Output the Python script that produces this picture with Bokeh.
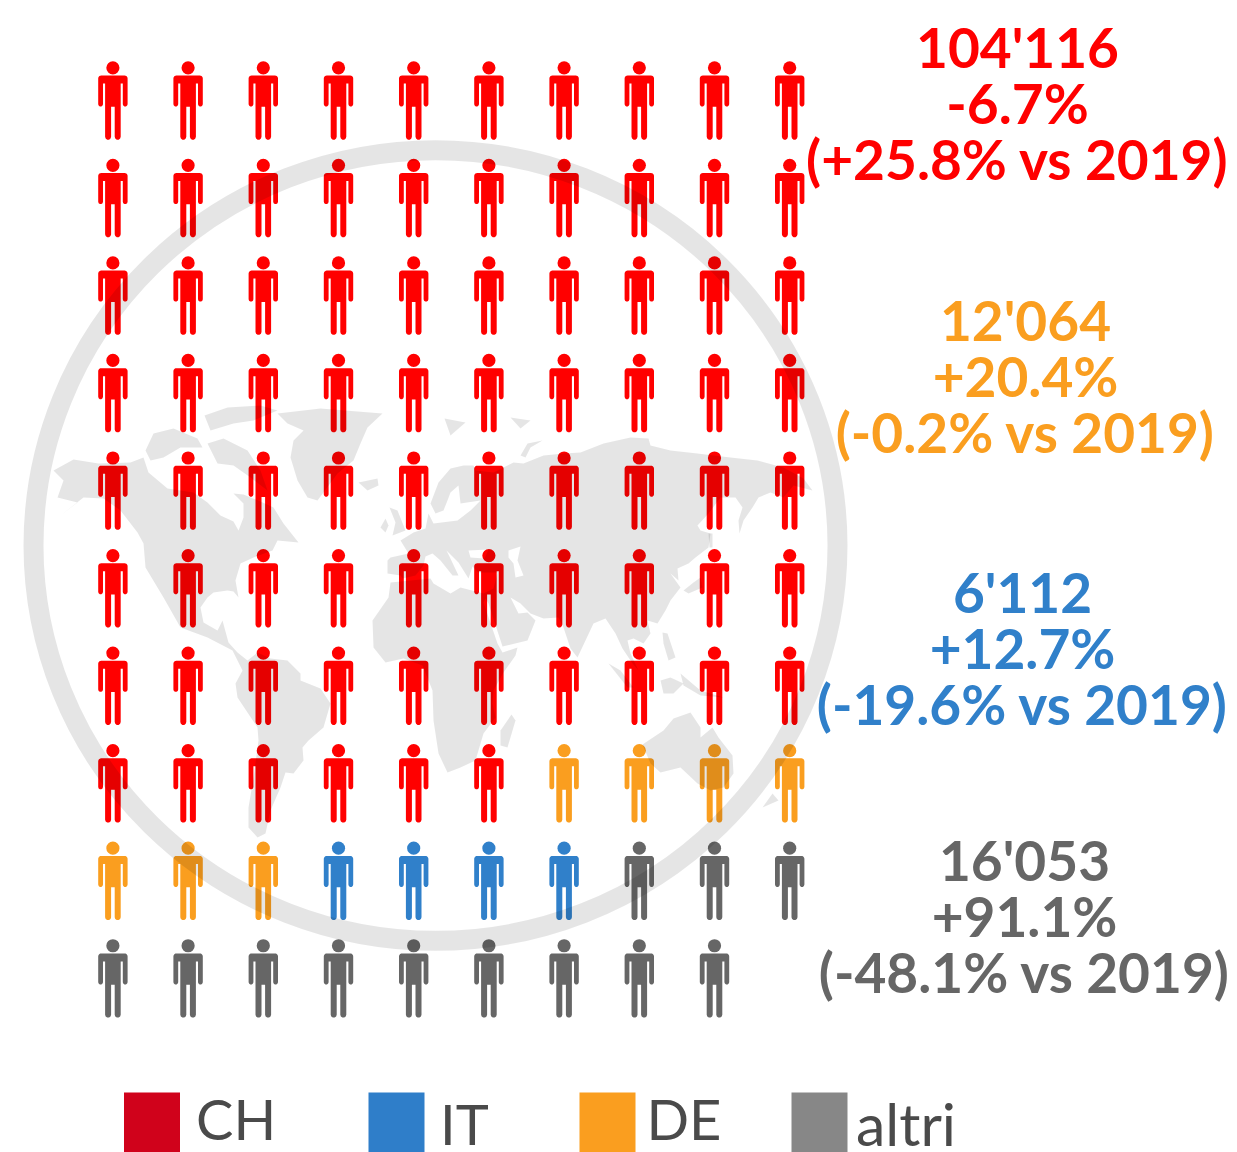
import numpy as np
from bokeh.plotting import figure
from bokeh.models import Range1d
from bokeh.core.properties import value
from bokeh.embed import file_html
from bokeh.resources import INLINE

# ---- data ----
categories = ["CH", "DE", "IT", "altri"]
icon_counts = [76, 7, 4, 12]
icon_colors = ["#FF0000", "#FA9E1F", "#3080CA", "#666666"]
per_row = 10

labels_ch = ["104'116", "-6.7%", "(+25.8% vs 2019)"]
labels_de = ["12'064", "+20.4%", "(-0.2% vs 2019)"]
labels_it = ["6'112", "+12.7%", "(-19.6% vs 2019)"]
labels_al = ["16'053", "+91.1%", "(-48.1% vs 2019)"]

legend_labels = ["CH", "IT", "DE", "altri"]
legend_colors = ["#D0021B", "#2F7EC9", "#FA9E1F", "#878787"]

# decorative world map
americas = [(53,470),(73,459),(98,463),(130,462),(143,457),(148,472),(167,488),(193,492),(207,502),(220,515),(233,521),(238,530),(243,517),(243,503),(233,493),(243,494),(260,501),(273,507),(283,523),(298,542),(277,540),(272,550),(253,557),(240,563),(235,580),(238,597),(233,591),(227,590),(213,592),(207,597),(200,607),(203,622),(217,630),(222,620),(228,642),(237,652),(247,660),(257,652),(270,658),(287,660),(300,673),(300,680),(320,688),(330,703),(323,727),(308,740),(302,747),(303,760),(293,773),(285,772),(280,787),(270,810),(265,833),(257,837),(248,827),(248,807),(253,777),(258,740),(257,727),(237,697),(235,683),(242,670),(232,650),(207,637),(180,627),(163,597),(145,567),(143,543),(137,532),(120,510),(103,498),(83,497),(60,515),(77,502),(57,497),(63,480)]
afro_eurasia = [(390,557),(408,553),(400,540),(413,532),(425,528),(428,513),(433,523),(457,520),(470,510),(480,500),(460,503),(458,485),(450,492),(447,500),(443,510),(435,513),(430,503),(438,482),(450,468),(463,465),(473,465),(475,470),(493,472),(513,462),(523,463),(543,455),(563,453),(580,452),(603,443),(630,437),(648,438),(650,445),(670,450),(697,453),(730,457),(757,460),(783,467),(803,478),(812,490),(793,485),(783,497),(770,492),(758,497),(752,507),(743,520),(739,533),(738,520),(742,507),(735,497),(720,497),(708,513),(697,525),(700,530),(710,533),(708,547),(695,557),(688,563),(677,568),(678,580),(670,573),(680,587),(670,600),(665,610),(657,623),(647,620),(650,633),(643,643),(633,638),(627,640),(630,653),(638,670),(632,663),(622,648),(615,633),(605,618),(593,623),(585,640),(577,657),(570,648),(563,627),(558,617),(543,618),(530,613),(520,603),(510,597),(518,613),(527,612),(535,620),(527,640),(502,646),(488,603),(485,598),(483,602),(497,643),(502,652),(517,647),(515,655),(503,672),(493,690),(492,703),(495,717),(483,733),(475,760),(460,767),(447,772),(438,753),(433,720),(432,690),(422,665),(403,658),(385,662),(373,647),(372,620),(388,597),(390,582),(400,581),(430,578),(433,583),(450,593),(460,587),(483,593),(493,588),(497,572),(478,572),(472,566),(468,578),(458,562),(446,550),(449,556),(458,575),(452,575),(440,560),(432,553),(425,556),(423,565),(415,575),(402,578),(400,575),(387,573),(387,560)]
black_sea = [(468,550),(488,549),(484,558),(470,557)]
caspian = [(508,550),(520,546),(517,560),(523,575),(515,577),(513,563),(508,557)]
islands = [
 [(204,415),(227,407),(260,405),(277,410),(253,420),(233,423),(210,430)],
 [(145,450),(153,433),(173,428),(197,438),(202,447),(180,447),(163,457),(150,460)],
 [(207,443),(223,438),(247,450),(260,470),(267,490),(250,477),(233,465),(217,463)],
 [(277,413),(320,408),(382,413),(367,427),(360,443),(353,460),(337,473),(317,500),(307,497),(297,480),(290,457),(293,440),(303,430),(287,423)],
 [(358,482),(377,478),(378,485),(367,490)],
 [(380,527),(385,518),(388,525),(385,532)],
 [(389,507),(397,510),(405,530),(392,535),(395,522)],
 [(520,455),(527,443),(542,440),(530,447),(525,457)],
 [(510,417),(530,420),(520,428)],
 [(444,418),(465,422),(450,435)],
 [(608,663),(620,670),(633,687),(627,687)],
 [(660,680),(670,677),(683,683),(673,693),(663,693)],
 [(662,632),(667,633),(675,657),(668,660),(663,643)],
 [(683,590),(693,582),(700,577),(702,587),(688,593)],
 [(708,533),(712,533),(712,547),(709,547)],
 [(680,673),(700,690),(723,697),(700,695),(683,685)],
 [(642,744),(663,730),(673,718),(690,712),(700,727),(700,737),(712,727),(718,737),(732,755),(733,773),(723,787),(710,790),(697,783),(680,767),(660,772),(650,763)],
 [(772,793),(778,800),(762,807),(767,800)],
 [(511,714),(515,720),(507,747),(500,745),(500,730)],
]

# ---- canvas is in page pixels ----
W, H = 1237, 1152
p = figure(width=W, height=H, x_range=Range1d(0, W), y_range=Range1d(H, 0),
           toolbar_location=None, output_backend="svg", min_border=0,
           outline_line_color=None, background_fill_color="white")
p.axis.visible = False
p.grid.visible = False

# ---- icons ----
def arc(cx, cy, r, a0, a1):
    t = np.radians(np.linspace(a0, a1, 6))
    return [(cx + r*np.cos(v), cy + r*np.sin(v)) for v in t]

def person_outline():
    pts = []
    pts += arc(-11.7, 2.7, 3, 180, 270)
    pts += arc(11.7, 2.7, 3, 270, 360)
    pts += arc(12.3, 28.4, 2.4, 0, 180)
    pts += [(9.9, 7.7), (7.8, 7.7), (7.8, 31)]
    pts += arc(4.8, 61, 3, 0, 180)
    pts += [(1.8, 31), (-1.8, 31)]
    pts += arc(-4.8, 61, 3, 0, 180)
    pts += [(-7.8, 31), (-7.8, 7.7), (-9.9, 7.7)]
    pts += arc(-12.3, 28.4, 2.4, 0, 180)
    return np.array(pts)

col_x0, col_dx = 112.4, 75.2
row_y0, row_dy = 67.3, 97.55
shape = person_outline()
colors = [c for c, n in zip(icon_colors, icon_counts) for _ in range(n)]
idx = np.arange(len(colors))
cx = col_x0 + col_dx * (idx % per_row)
cy = row_y0 + row_dy * (idx // per_row)
p.circle(cx, cy, radius=6.6, radius_units="data", fill_color=colors, line_color=None)
p.patches([list(shape[:, 0] + x) for x in cx], [list(shape[:, 1] + 8 + y) for y in cy],
          fill_color=colors, line_color=None)

# ---- map and ring lie over the icons as a translucent layer ----
def poly(pts):
    return [float(a) for a, _ in pts], [float(b) for _, b in pts]

mx, my = [], []
for outer, holes in [(americas, []), (afro_eurasia, [black_sea, caspian])] + [(i, []) for i in islands]:
    ox, oy = poly(outer)
    xs = [ox]; ys = [oy]
    for h in holes:
        hx, hy = poly(h); xs.append(hx); ys.append(hy)
    mx.append([xs]); my.append([ys])
p.multi_polygons(mx, my, fill_color="black", fill_alpha=0.1, line_color=None)
p.ellipse([435], [545], width=[804], height=[791], fill_color=None,
          line_color="black", line_alpha=0.1, line_width=20)

# ---- value labels ----
blocks = [(labels_ch, "#FF0000", 1017, 46), (labels_de, "#FA9E1F", 1025, 319),
          (labels_it, "#3080CA", 1022, 591), (labels_al, "#666666", 1024, 859)]
for lines, col, xc, y0 in blocks:
    for i, s in enumerate(lines):
        p.text([xc], [y0 + 56*i], text=[s], text_color=col, text_font=value("Lato"), text_font_style="bold",
               text_font_size="55px", text_align="center", text_baseline="alphabetic")

# ---- legend ----
leg_x = [123.5, 368, 579, 791]
txt_x = [195.5, 439.5, 646, 855.5]
txt_y = [1118, 1123, 1118, 1123]
txt_s = ["56px", "56px", "56px", "59px"]
for lx, tx, ty, sz, name, col in zip(leg_x, txt_x, txt_y, txt_s, legend_labels, legend_colors):
    p.quad(left=[lx], right=[lx+56], top=[1092], bottom=[1152], fill_color=col, line_color=None)
    p.text([tx], [ty], text=[name], text_color="#4A4A4A", text_font=value("Lato"),
           text_font_size=sz, text_align="left", text_baseline="alphabetic")

open("out.html", "w").write(file_html(p, INLINE))
